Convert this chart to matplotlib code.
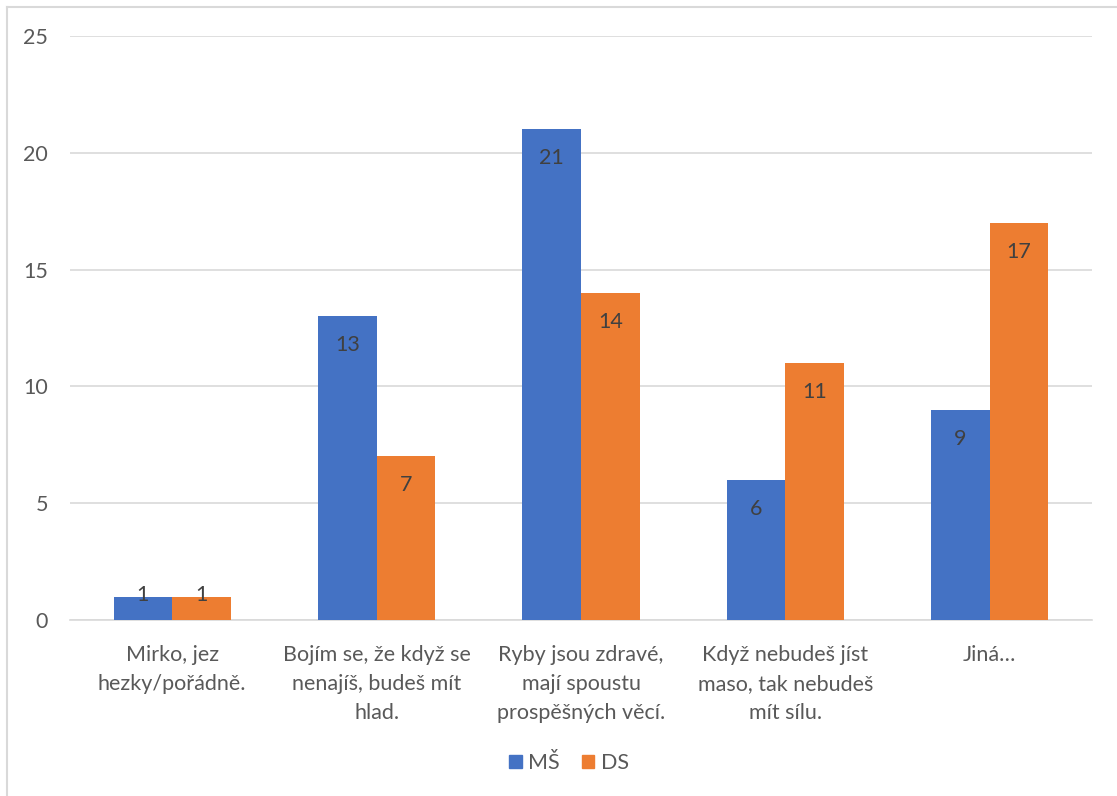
import matplotlib
matplotlib.use("Agg")
import matplotlib.pyplot as plt
from matplotlib.lines import Line2D
import numpy as np

categories = ["Mirko, jez\nhezky/pořádně.",
              "Bojím se, že když se\nnenajíš, budeš mít\nhlad.",
              "Ryby jsou zdravé,\nmají spoustu\nprospěšných věcí.",
              "Když nebudeš jíst\nmaso, tak nebudeš\nmít sílu.",
              "Jiná…"]
series_names = ["MŠ", "DS"]
ms_values = [1, 13, 21, 6, 9]
ds_values = [1, 7, 14, 11, 17]
yticks = [0, 5, 10, 15, 20, 25]

colors = ["#4472C4", "#ED7D31"]
text_color = "#595959"
plt.rcParams['font.family'] = ['Lato', 'DejaVu Sans']
FS = 15.5

fig = plt.figure(figsize=(11.17, 7.96), dpi=100)
ax = fig.add_axes([0.0627, 0.2211, 0.9776 - 0.0627, 0.9548 - 0.2211])

x = np.arange(len(categories))
w = 0.287
for i, (vals, name) in enumerate(zip([ms_values, ds_values], series_names)):
    pos = x + (i - 0.5) * w
    ax.bar(pos, vals, width=w, color=colors[i], label=name, zorder=3)
    for px, v in zip(pos, vals):
        if v >= 3:
            ax.annotate(str(v), (px, v), xytext=(0, -29), textcoords='offset pixels',
                        ha='center', va='center', fontsize=FS, color="#404040", zorder=4)
        else:
            ax.annotate(str(v), (px, v), xytext=(0, 2), textcoords='offset pixels',
                        ha='center', va='center', fontsize=FS, color="#404040", zorder=4)

ax.set_xlim(-0.5, len(categories) - 0.5)
ax.set_ylim(0, 25)
ax.set_yticks(yticks)
ax.set_yticklabels([str(t) for t in yticks])
ax.set_xticks(x)
ax.set_xticklabels(categories, linespacing=1.55)
ax.grid(axis='y', color="#D9D9D9", linewidth=1.2, zorder=0)
for s in ["top", "right", "left"]:
    ax.spines[s].set_visible(False)
ax.spines["bottom"].set_color("#D9D9D9")
ax.spines["bottom"].set_linewidth(1.2)
ax.tick_params(axis='both', length=0, colors=text_color, labelsize=FS)
ax.tick_params(axis='y', pad=16)
ax.tick_params(axis='x', pad=18)

handles = [plt.Rectangle((0, 0), 1, 1, color=c) for c in colors]
fig.legend(handles, series_names, loc='center', bbox_to_anchor=(569 / 1117, 1 - 763 / 796),
           ncol=2, frameon=False, fontsize=FS, labelcolor=text_color,
           handlelength=0.6, handleheight=0.6, handletextpad=0.3, columnspacing=1.0,
           borderpad=0)

# chart border (left & top visible)
fig.add_artist(Line2D([7 / 1117, 7 / 1117], [0, 1 - 7 / 796], color="#D9D9D9", lw=1.5))
fig.add_artist(Line2D([7 / 1117, 1], [1 - 7 / 796, 1 - 7 / 796], color="#D9D9D9", lw=1.5))

fig.savefig("out.png", dpi=100)
